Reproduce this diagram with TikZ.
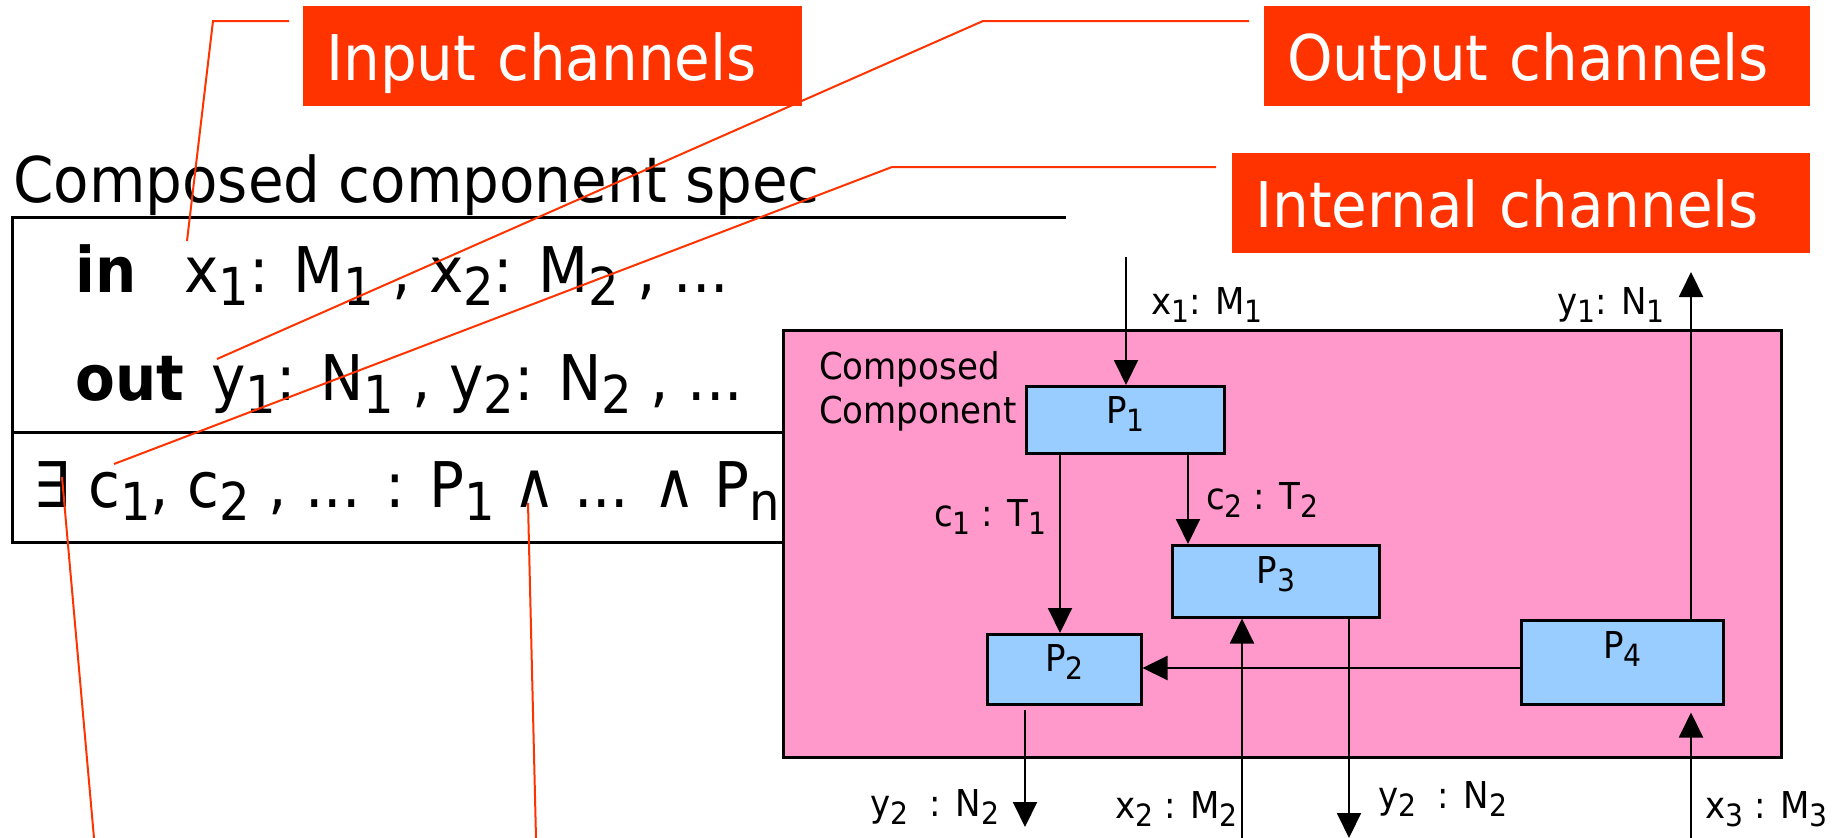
\documentclass[tikz,border=0pt]{standalone}
\usepackage{fontspec}
\setmainfont{DejaVu Sans}[FakeStretch=0.92]
\usepackage{graphicx}
\usetikzlibrary{arrows.meta}
\definecolor{callout}{HTML}{FF3300}
\definecolor{pinkbg}{HTML}{FF99CC}
\definecolor{bluebox}{HTML}{99CCFF}
\newcommand\lo[1]{\raisebox{-0.22em}{\scalebox{0.83}{#1}}}
\newcommand\bigf{\fontsize{63}{75}\selectfont}
\newcommand\smf{\fontsize{37}{44}\selectfont}
\begin{document}
\begin{tikzpicture}[x=1pt,y=-1pt,
  redbox/.style={fill=callout, text=white, font=\bigf, inner xsep=23pt, inner ysep=0pt,
    text height=74pt, text depth=26pt, align=left, anchor=north west},
  lead/.style={draw=callout, line width=2pt},
  bigtext/.style={font=\bigf, inner sep=0pt, anchor=base west},
  smtext/.style={font=\smf, inner sep=0pt, anchor=base west},
  ptext/.style={font=\smf, inner sep=0pt, anchor=north},
  procbox/.style={draw=black, line width=2.5pt, fill=bluebox, anchor=north west, inner sep=0pt},
  arr/.style={line width=2pt, -{Triangle[length=25pt,width=24pt]}},
  ]
\useasboundingbox (0,0) rectangle (1840,838);

% callout boxes
\node[redbox, text width=453pt] (inbox) at (303,6) {Input channels};
\node[redbox, text width=500pt] (outbox) at (1264,6) {Output channels};
\node[redbox, text width=532pt] (intbox) at (1232,153) {Internal channels};

% spec text
\node[bigtext] (title) at (13,202) {Composed component spec};
\node[bigtext, font=\bigf\bfseries] (kin) at (75,292) {in};
\node[bigtext] (inlist) at (184,292) {x\lo{1}: M\lo{1} , x\lo{2}: M\lo{2} , ...};
\node[bigtext, font=\bigf\bfseries] (kout) at (75,400) {out};
\node[bigtext] (outlist) at (211,400) {y\lo{1}: N\lo{1} , y\lo{2}: N\lo{2} , ...};
\node[bigtext] (exists) at (33,507) {∃ c\lo{1}, c\lo{2} , ... : P\lo{1} ∧ ... ∧ P\lo{n}};

% composed component
\node[draw=black, line width=3pt, fill=pinkbg, anchor=north west, inner sep=0pt,
  minimum width=998pt, minimum height=427pt] (cc) at (782,329) {};

% spec box lines
\draw[line width=3pt] (1066,217) -- (12,217) -- (12,542) -- (cc.west |- 0,542);
\draw[line width=3pt] (12,432) -- (cc.west |- 0,432);

\node[smtext] (cc1) at (819,379) {Composed};
\node[smtext] (cc2) at (819,423) {Component};

\node[procbox, minimum width=198pt, minimum height=67pt] (P1) at (1025,385) {};
\node[procbox, minimum width=207pt, minimum height=72pt] (P3) at (1171,544) {};
\node[procbox, minimum width=154pt, minimum height=70pt] (P2) at (986,633) {};
\node[procbox, minimum width=202pt, minimum height=84pt] (P4) at (1520,619) {};
\node[ptext] (P1t) at ([yshift=-11pt]P1.north) {P\lo{1}};
\node[ptext] (P3t) at ([yshift=-12pt]P3.north) {P\lo{3}};
\node[ptext] (P2t) at ([yshift=-11pt]P2.north) {P\lo{2}};
\node[ptext] (P4t) at ([yshift=-12pt]P4.north) {P\lo{4}};

% channel coordinates
\coordinate (x1s) at (1126,257);
\coordinate (y1e) at (1691,272);
\coordinate (c1x) at (1060,0);
\coordinate (c2x) at (1188,0);
\coordinate (hy) at (0,668);
\coordinate (x2s) at (1242,838);
\coordinate (y2b) at (1349,838);
\coordinate (y2a) at (1025,827);
\coordinate (x3s) at (1691,838);

\draw[arr] (x1s) -- (x1s |- P1.north);
\draw[arr] (y1e |- P4.north) -- (y1e);
\draw[arr] (c1x |- P1.south) -- (c1x |- P2.north);
\draw[arr] (c2x |- P1.south) -- (c2x |- P3.north);
\draw[arr] (P4.west |- hy) -- (P2.east |- hy);
\draw[arr] (x2s) -- (x2s |- P3.south);
\draw[arr] (y2b |- P3.south) -- (y2b);
\draw[arr, shorten <=4pt] (y2a |- P2.south) -- (y2a);
\draw[arr, shorten >=7pt] (x3s) -- (x3s |- P4.south);

% channel labels
\node[smtext] (lx1) at (1151,314) {x\lo{1}: M\lo{1}};
\node[smtext] (ly1) at (1557,314) {y\lo{1}: N\lo{1}};
\node[smtext] (lc1) at (934,526) {c\lo{1} : T\lo{1}};
\node[smtext] (lc2) at (1206,509) {c\lo{2} : T\lo{2}};
\node[smtext] (ly2a) at (870,816) {y\lo{2}\ \ : N\lo{2}};
\node[smtext] (lx2) at (1115,818) {x\lo{2} : M\lo{2}};
\node[smtext] (ly2b) at (1378,808) {y\lo{2}\ \ : N\lo{2}};
\node[smtext] (lx3) at (1705,818) {x\lo{3} : M\lo{3}};

% leader lines
\coordinate (inA) at (289,21);  \coordinate (inB) at (213,21);  \coordinate (inC) at (187,241);
\coordinate (outA) at (1249,21); \coordinate (outB) at (983,21); \coordinate (outC) at (217,359);
\coordinate (intA) at (1216,167); \coordinate (intB) at (892,167); \coordinate (intC) at (114,464);
\coordinate (exA) at (62,477); \coordinate (exB) at (94,838);
\coordinate (anA) at (528,503); \coordinate (anB) at (536,838);
\draw[lead] (inA) -- (inB) -- (inC);
\draw[lead] (outA) -- (outB) -- (outC);
\draw[lead] (intA) -- (intB) -- (intC);
\draw[lead] (exA) -- (exB);
\draw[lead] (anA) -- (anB);
\end{tikzpicture}
\end{document}
